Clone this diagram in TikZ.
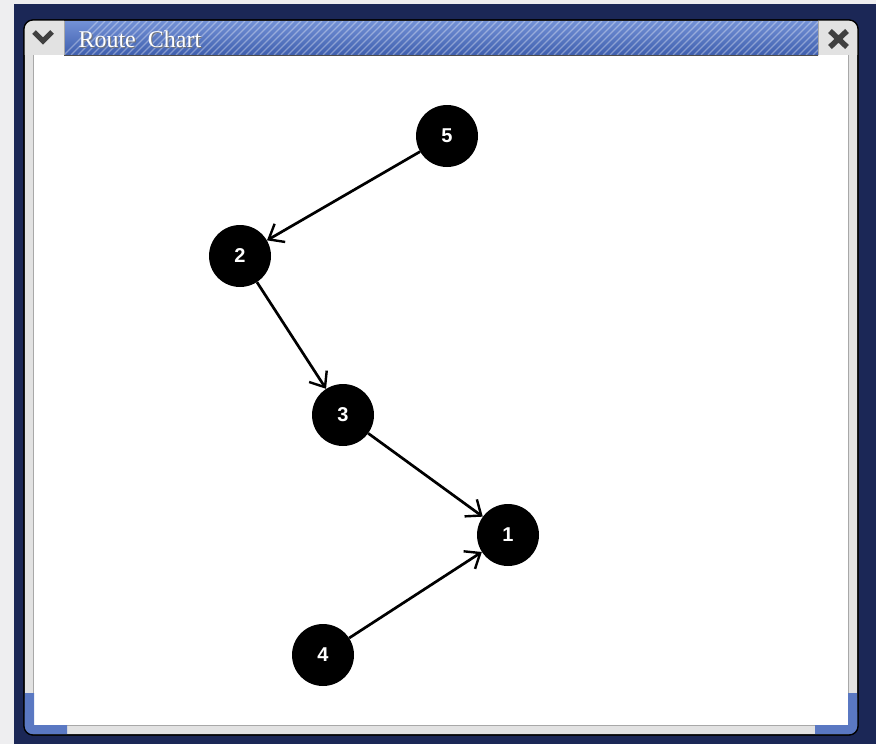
\documentclass[tikz,border=0pt]{standalone}
\usepackage{fontspec}
\newfontfamily\serifT{Liberation Serif}
\newfontfamily\sansN{Liberation Sans}
\usetikzlibrary{arrows.meta}
\definecolor{navy}{HTML}{1B2756}
\definecolor{desk}{HTML}{EEEEF0}
\definecolor{framegray}{HTML}{E2E2E2}
\definecolor{lineg}{HTML}{A8A8A8}
\definecolor{blueA}{HTML}{7391D6}
\definecolor{blueB}{HTML}{3F5FAE}
\definecolor{cornerblue}{HTML}{5A78C2}
\tikzset{
  vertex/.style={circle, fill=black, minimum size=62pt, inner sep=0pt,
    text=white, font=\sansN\bfseries\fontsize{20}{20}\selectfont},
  edge/.style={line width=2.7pt, -{Straight Barb[length=13pt,width=21pt,line width=2.4pt]}},
  btn/.style={fill=framegray, draw=lineg, line width=0.8pt}
}
\begin{document}
\begin{tikzpicture}[x=1pt,y=-1pt]
\useasboundingbox (0,0) rectangle (876,744);
% desktop and outer frame
\fill[desk] (0,0) rectangle (876,744);
\fill[navy] (14,4) rectangle (876,744);
% window body
\fill[framegray, draw=black, line width=1.2pt, rounded corners=9pt] (24,20) rectangle (858,735);
% content area
\fill[white] (34,55) rectangle (848,725);
\draw[lineg, line width=1pt] (33.5,55) -- (33.5,725.5) -- (848.5,725.5) -- (848.5,55);
% bottom corner blue pieces
\fill[cornerblue] (24.6,693) -- (34,693) -- (34,725) -- (67,725) -- (67,734.4) -- (32,734.4) arc[start angle=270,end angle=180,radius=8pt] -- cycle;
\fill[cornerblue] (857.4,693) -- (848,693) -- (848,725) -- (815,725) -- (815,734.4) -- (850,734.4) arc[start angle=270,end angle=360,radius=8pt] -- cycle;
% title bar
\shade[top color=blueA, bottom color=blueB] (64,21) rectangle (818,55);
\begin{scope}
  \clip (64,21) rectangle (818,55);
  \foreach \i in {0,...,110} {
    \draw[white, opacity=0.35, line width=1.1pt] (64+\i*7,55) -- (64+\i*7+34,21);
  }
\end{scope}
\draw[black!70, line width=1pt] (64,55.5) -- (818,55.5);
\node[anchor=west, text=black!55, font=\serifT\fontsize{24}{24}\selectfont] (titleS) at (76,40) {Route\ \ Chart};
\node[anchor=west, text=white, font=\serifT\fontsize{24}{24}\selectfont] (title) at (75,39) {Route\ \ Chart};
% buttons
\begin{scope}
  \clip[rounded corners=9pt] (24,20) rectangle (858,735);
  \fill[framegray] (24,20) rectangle (64,55);
  \fill[framegray] (818,20) rectangle (858,55);
\end{scope}
\draw[lineg, line width=0.8pt] (64,21) -- (64,55);
\draw[lineg, line width=0.8pt] (818,21) -- (818,55);
\draw[black!75, line width=5pt] (34,32) -- (43,41) -- (52,32);
\draw[black!75, line width=5.5pt] (830,31) -- (847,47) (847,31) -- (830,47);
\draw[black, line width=1.2pt, rounded corners=9pt] (24,20) rectangle (858,735);
% nodes
\node[vertex] (n5) at (447,136) {5};
\node[vertex] (n2) at (240,256) {2};
\node[vertex] (n3) at (343,415) {3};
\node[vertex] (n1) at (508,535) {1};
\node[vertex] (n4) at (323,655) {4};
% edges
\draw[edge] (n5) -- (n2);
\draw[edge] (n2) -- (n3);
\draw[edge] (n3) -- (n1);
\draw[edge] (n4) -- (n1);
\end{tikzpicture}
\end{document}
